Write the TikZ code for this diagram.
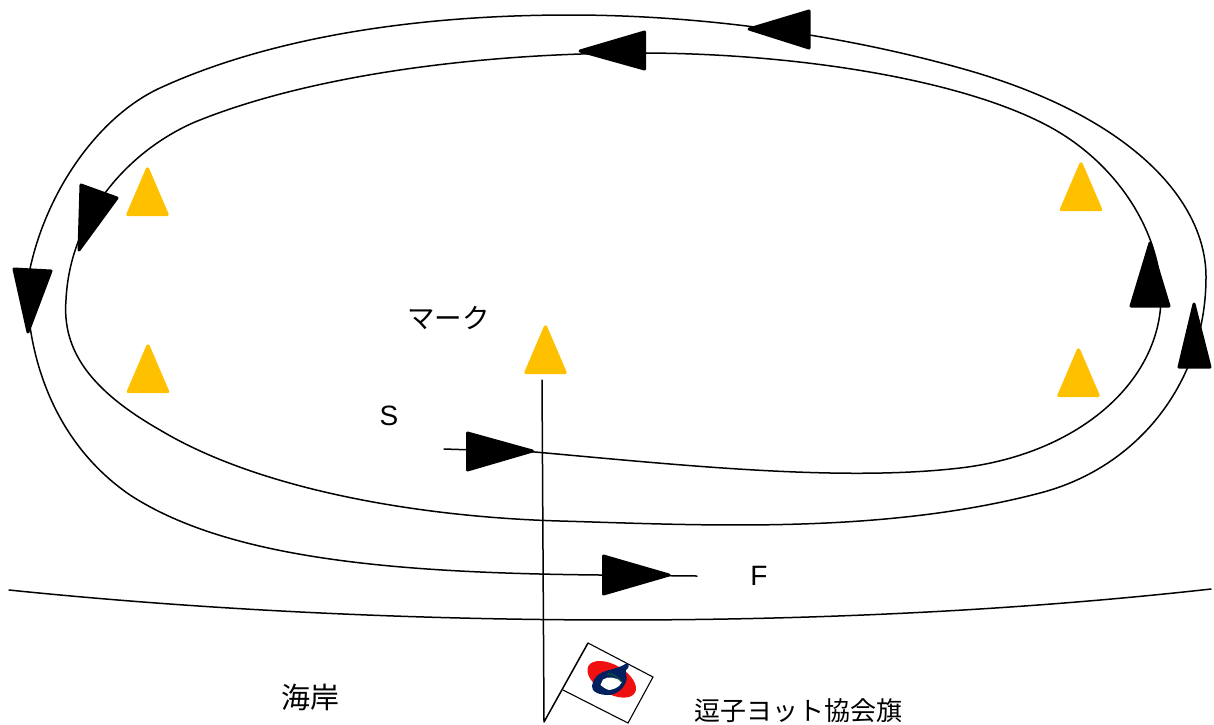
\documentclass[tikz,border=0pt]{standalone}
\usepackage{fontspec}
\setmainfont{Liberation Sans}
\newfontfamily\jpfont{Noto Sans CJK JP}
\definecolor{markgold}{HTML}{FFC000}
\definecolor{flagblue}{HTML}{002060}
\definecolor{flagred}{HTML}{F01010}
\definecolor{flaggreen}{HTML}{0B6B1E}
\tikzset{
  course/.style={draw=black,line width=1.5pt,line cap=round,line join=round},
  boat/.style={fill=black,draw=black,line width=3pt,line join=round},
  buoy/.style={fill=markgold,draw=markgold,line width=3.4pt,line join=round},
  lab/.style={inner sep=0pt,anchor=center,font=\fontsize{28}{32}\selectfont},
  jplab/.style={inner sep=0pt,anchor=center,font=\jpfont\fontsize{26}{30}\selectfont},
}
\begin{document}
\begin{tikzpicture}[x=1pt,y=-1pt]
\useasboundingbox (0,0) rectangle (1214,724);
\fill[white] (0,0) rectangle (1214,724);
% spiral course
\draw[course] (444,449) -- (535,452)
 .. controls (680,465) and (840,482) .. (960,468)
 .. controls (1080,454) and (1162,380) .. (1161,295)
 .. controls (1160,230) and (1116,163) .. (1050,127)
 .. controls (960,78) and (790,53) .. (640,53)
 .. controls (480,53) and (310,75) .. (195,122)
 .. controls (130,150) and (70,215) .. (66,300)
 .. controls (62,350) and (90,390) .. (160,430)
 .. controls (260,490) and (420,517) .. (560,521)
 .. controls (700,525) and (880,535) .. (1040,493)
 .. controls (1140,467) and (1206,380) .. (1206,277)
 .. controls (1206,200) and (1130,115) .. (960,68)
 .. controls (860,40) and (720,15) .. (570,15)
 .. controls (400,15) and (260,42) .. (160,88)
 .. controls (95,118) and (40,200) .. (27,285)
 .. controls (27,350) and (50,440) .. (130,495)
 .. controls (230,560) and (400,573) .. (600,575)
 -- (697,576);
% shore
\draw[course] (9,590) .. controls (350,625) and (800,635) .. (1211,589);
% pole and flag
\draw[course] (542,380) -- (544,722) -- (588,643);
\draw[line width=1.1pt,line join=miter] (588,643) -- (653,677) -- (628,723) -- (563,690);
\fill[flagred,rotate around={-30:(611.7,679.3)}] (611.7,679.3) ellipse [x radius=26.8,y radius=14.4];
\fill[flagblue] (627,663) .. controls (630,664) and (629,668) .. (626,670)
  .. controls (625,672) and (627,675) .. (626.5,680)
  .. controls (624,689) and (616,695) .. (608,695)
  .. controls (600,695) and (591,692) .. (592,686)
  .. controls (593,680) and (596,675) .. (602,672.5)
  .. controls (608,669.5) and (618,669) .. (627,663) -- cycle;
\fill[white] (603,679.5) .. controls (608,676) and (616,677) .. (622,682)
  .. controls (619,688) and (613,689.5) .. (609,690)
  .. controls (605,689) and (602,686) .. (600.5,685) -- cycle;
\draw[flaggreen,line width=1.4pt,dash pattern=on 1.5pt off 1pt] (608,674) .. controls (613,673.5) and (618,677) .. (622,682.5);
% buoys
\foreach \x/\y in {147.5/166,1081/161,148/343,1078.5/347,545.5/324}{
  \fill[buoy] (\x,\y+3) -- (\x+19.5,\y+48.5) -- (\x-19.5,\y+48.5) -- cycle;
}
% boats
\fill[boat] (809,11) -- (749,29) -- (809,48) -- cycle;
\fill[boat] (644.5,32) -- (580,51) -- (644.5,69) -- cycle;
\fill[boat] (81,185) -- (117,198) -- (79,250) -- cycle;
\fill[boat] (14,269) -- (51,271) -- (28,332) -- cycle;
\fill[boat] (1150,243) -- (1169,306) -- (1131,306) -- cycle;
\fill[boat] (1194,304) -- (1210,367) -- (1179,367) -- cycle;
\fill[boat] (467.5,433) -- (532.5,451) -- (467.5,470) -- cycle;
\fill[boat] (603.5,556) -- (669,575) -- (603.5,594) -- cycle;
% labels
\node[jplab,font=\jpfont\fontsize{27.5}{30}\selectfont] (mark) at (448.5,318) {マーク};
\node[lab] (s) at (389,416) {S};
\node[lab] (f) at (759,576) {F};
\node[jplab,font=\jpfont\fontsize{29}{32}\selectfont] (shore) at (310.5,697) {海岸};
\node[jplab] (flag) at (798.5,711) {逗子ヨット協会旗};
\end{tikzpicture}
\end{document}
